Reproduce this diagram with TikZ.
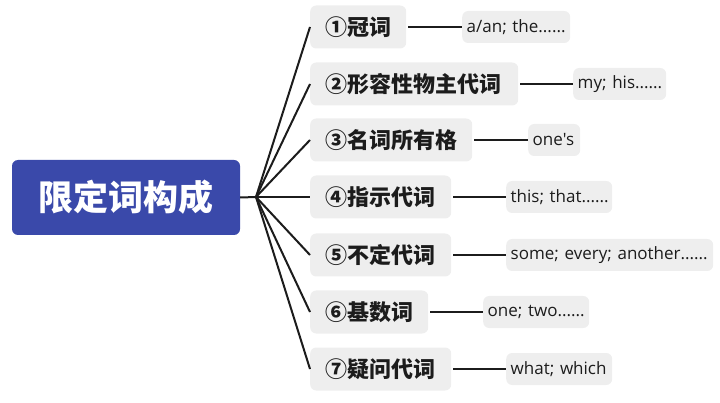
\documentclass[tikz,border=0pt]{standalone}
\usepackage{fontspec}
\newfontfamily\cjk{Noto Sans CJK SC}
\newfontfamily\leaffont{Open Sans}
\usetikzlibrary{positioning}
\definecolor{rootblue}{RGB}{58,73,170}
\definecolor{boxgray}{RGB}{238,238,238}
\definecolor{inkdark}{RGB}{28,28,28}
\tikzset{
  root/.style={fill=rootblue, rounded corners=6pt, text=white, font=\cjk\bfseries\fontsize{35}{40}\selectfont, inner sep=0pt},
  part/.style={fill=boxgray, rounded corners=6pt, text=inkdark, font=\cjk\bfseries\fontsize{22}{26}\selectfont, inner xsep=15pt, inner ysep=0pt, minimum height=43pt, align=left, anchor=west},
  leaf/.style={fill=boxgray, rounded corners=6pt, text=inkdark, font=\leaffont\fontsize{17}{20}\selectfont, inner xsep=4.5pt, inner ysep=0pt, minimum height=32pt, align=left, anchor=west},
  link/.style={draw=inkdark, line width=2pt}
}
\begin{document}
\begin{tikzpicture}[x=1pt,y=-1pt]
\useasboundingbox (0,0) rectangle (720,403);
\node[root, minimum width=228pt, minimum height=75pt] (root) at (126,197.5) {限定词构成};
\coordinate (hub) at (256,197);

\node[part, text width=66pt] (p1) at (310,27) {\mbox{①冠词}};
\node[part, text width=178pt] (p2) at (310,84) {\mbox{②形容性物主代词}};
\node[part, text width=132pt] (p3) at (310,140) {\mbox{③名词所有格}};
\node[part, text width=111pt] (p4) at (310,197) {\mbox{④指示代词}};
\node[part, text width=111pt] (p5) at (310,255) {\mbox{⑤不定代词}};
\node[part, text width=88pt] (p6) at (310,312) {\mbox{⑥基数词}};
\node[part, text width=111pt] (p7) at (310,369) {\mbox{⑦疑问代词}};

\node[leaf, text width=99pt] (l1) at (462,27) {\mbox{a/an; the......}};
\node[leaf, text width=84pt] (l2) at (573,84) {\mbox{my; his......}};
\node[leaf, text width=43pt] (l3) at (528,140) {\mbox{one's}};
\node[leaf, text width=97pt] (l4) at (506,197) {\mbox{this; that......}};
\node[leaf, text width=198pt] (l5) at (506,255) {\mbox{some; every; another......}};
\node[leaf, text width=97pt] (l6) at (483,312) {\mbox{one; two......}};
\node[leaf, text width=97pt] (l7) at (506,369) {\mbox{what; which}};

\path[link] (root.east) -- (hub);
\foreach \i in {1,...,7} {
  \path[link] (hub) -- (p\i.west);
  \path[link] ([xshift=2pt]p\i.east) -- (l\i.west);
}
\end{tikzpicture}
\end{document}
